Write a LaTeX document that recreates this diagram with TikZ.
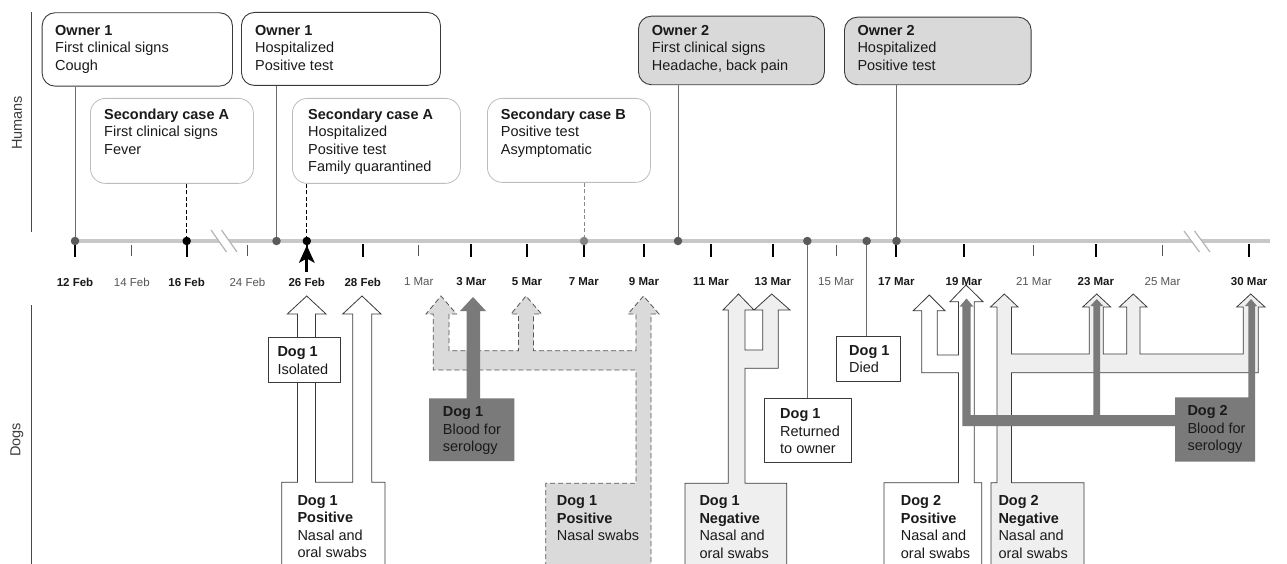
\documentclass[tikz,border=0pt]{standalone}
\usepackage{fontspec}
\setmainfont{Liberation Sans}
\usetikzlibrary{arrows.meta}
\definecolor{ink}{HTML}{1A1A1A}
\definecolor{tlgray}{HTML}{C8C8C8}
\definecolor{dotgray}{HTML}{5A5A5A}
\definecolor{conngray}{HTML}{6B6B6B}
\definecolor{boxline}{HTML}{3A3A3A}
\definecolor{secline}{HTML}{BDBDBD}
\definecolor{ownfill}{HTML}{D9D9D9}
\definecolor{negfill}{HTML}{EFEFEF}
\definecolor{dashfill}{HTML}{DADADA}
\definecolor{bloodfill}{HTML}{7A7A7A}
\definecolor{labgray}{HTML}{555555}
\definecolor{brkgray}{HTML}{B5B5B5}
\begin{document}
\begin{tikzpicture}[x=1pt,y=-1pt,
  txt/.style={anchor=north west,inner sep=0pt,align=left,font=\fontsize{14.5}{17.5}\selectfont,text=ink},
  obox/.style={draw=boxline,line width=0.9pt,rounded corners=13pt,fill=white,anchor=north west,inner sep=0pt},
  otwobox/.style={obox,fill=ownfill},
  sbox/.style={draw=secline,line width=0.8pt,rounded corners=15pt,fill=white,anchor=north west,inner sep=0pt},
  dbox/.style={draw=boxline,line width=0.8pt,fill=white,anchor=north west,inner sep=0pt},
  conn/.style={draw=conngray,line width=0.9pt},
  dconn/.style={draw=black,line width=0.9pt,dash pattern=on 4pt off 2.5pt},
  gconn/.style={draw=conngray!80,line width=0.9pt,dash pattern=on 4pt off 2.5pt},
  gdot/.style={circle,fill=dotgray,inner sep=0pt,minimum size=8.5pt},
  bdot/.style={circle,fill=black,inner sep=0pt,minimum size=8.5pt},
  btick/.style={line width=2pt,draw=black},
  gtick/.style={line width=0.9pt,draw=labgray},
  dlab/.style={font=\fontsize{11.5}{13}\selectfont\bfseries,text=ink,inner sep=0pt},
  glab/.style={font=\fontsize{11.5}{13}\selectfont,text=labgray,inner sep=0pt},
  wshape/.style={draw=boxline,line width=0.8pt,fill=white},
  nshape/.style={draw=boxline,line width=0.8pt,fill=negfill},
  dshape/.style={draw=labgray,line width=0.8pt,fill=dashfill,dash pattern=on 5pt off 3pt},
  bshape/.style={fill=bloodfill},
  side/.style={font=\fontsize{14.5}{17.5}\selectfont,text=ink!85,rotate=90,inner sep=0pt},
  sepline/.style={draw=ink!80,line width=0.9pt}
]
\useasboundingbox (0,0) rectangle (1287,564);
\fill[white] (0,0) rectangle (1287,564);

% side labels
\node[side] (hum) at (17,123) {Humans};
\node[side] (dogs) at (17,440) {Dogs};
\coordinate (sh1) at (31,12); \coordinate (sh2) at (31,232);
\coordinate (sd1) at (31,305); \coordinate (sd2) at (31,566);
\draw[sepline] (sh1) -- (sh2);
\draw[sepline] (sd1) -- (sd2);

% timeline
\coordinate (tl0) at (75,241); \coordinate (tl1) at (1270,241);
\draw[tlgray,line width=4.5pt] (tl0) -- (tl1);
\fill[white] (211,230) -- (221.5,230) -- (237,252) -- (226.5,252) -- cycle;
\draw[brkgray,line width=1.2pt] (211,230) -- (226.5,252) (221.5,230) -- (237,252);
\fill[white] (1184,231) -- (1194.5,231) -- (1210,252) -- (1199.5,252) -- cycle;
\draw[brkgray,line width=1.2pt] (1184,231) -- (1199.5,252) (1194.5,231) -- (1210,252);

\foreach \x in {75,186.7,306.8,362.8,471.4,527,583.8,644,710.9,772.9,896.4,963.9,1095.9,1249.2}
  \draw[btick] (\x,244) -- (\x,257);
\foreach \x in {131.8,247.5,418.7,836.1,1033.9,1162.5}
  \draw[gtick] (\x,245) -- (\x,256);

% dots
\node[gdot] (d12f) at (75,241) {};
\node[bdot] (d16f) at (186.7,241) {};
\node[gdot] (do1h) at (276.5,241) {};
\node[bdot] (d26f) at (306.8,241) {};
\node[gdot,fill=dotgray!75] (dsb) at (584,241) {};
\node[gdot] (do2s) at (678,241) {};
\node[gdot] (dret) at (807.3,241) {};
\node[gdot] (ddied) at (866.7,241) {};
\node[gdot] (do2h) at (896.5,241) {};

% black arrow at 26 Feb
\coordinate (ar0) at (306.8,272);
\coordinate (arb) at (306.8,258);
\draw[line width=3pt] (ar0) -- (arb);
\fill[black] (d26f.south) -- (314.8,263) -- (306.8,258.5) -- (298.8,263) -- cycle;

% top boxes
\node[obox,minimum width=190.3pt,minimum height=73.4pt] (o1a) at (41.7,12.3) {};
\node[obox,minimum width=199pt,minimum height=73pt] (o1b) at (241,12) {};
\node[sbox,minimum width=163pt,minimum height=85pt] (sa1) at (90,98) {};
\node[sbox,minimum width=168pt,minimum height=85pt] (sa2) at (292,98) {};
\node[sbox,minimum width=163pt,minimum height=84pt] (sb) at (487,98) {};
\node[otwobox,minimum width=186pt,minimum height=68.6pt] (o2a) at (638,15.7) {};
\node[otwobox,minimum width=186.7pt,minimum height=67.6pt] (o2b) at (844,16.7) {};

\node[txt] (to1a) at (55,22.75) {\strut\textbf{Owner 1}\\First clinical signs\\Cough};
\node[txt] (to1b) at (255,22.75) {\strut\textbf{Owner 1}\\Hospitalized\\Positive test};
\node[txt] (tsa1) at (104,106.75) {\strut\textbf{Secondary case A}\\First clinical signs\\Fever};
\node[txt] (tsa2) at (308,106.75) {\strut\textbf{Secondary case A}\\Hospitalized\\Positive test\\Family quarantined};
\node[txt] (tsb) at (500.7,106.75) {\strut\textbf{Secondary case B}\\Positive test\\Asymptomatic};
\node[txt] (to2a) at (651.7,22.75) {\strut\textbf{Owner 2}\\First clinical signs\\Headache, back pain};
\node[txt] (to2b) at (857.3,22.75) {\strut\textbf{Owner 2}\\Hospitalized\\Positive test};

\draw[conn] (o1a.south -| d12f) -- (d12f.north);
\draw[conn] (o1b.south -| do1h) -- (do1h.north);
\draw[dconn] (sa1.south -| d16f) -- (d16f.north);
\draw[dconn] (sa2.south -| d26f) -- (d26f.north);
\draw[gconn] (sb.south -| dsb) -- (dsb.north);
\draw[conn] (o2a.south -| do2s) -- (do2s.north);
\draw[conn] (o2b.south -| do2h) -- (do2h.north);

% Dog 1 positive (nasal and oral)
\draw[wshape] (281.7,575) -- (281.7,482.3) -- (297.5,482.3) -- (297.5,314) -- (287.3,314) -- (306.7,296) -- (326,314) -- (315.5,314) -- (315.5,482.3) -- (352.7,482.3) -- (352.7,314) -- (342.7,314) -- (362,296) -- (381,314) -- (371.7,314) -- (371.7,482.3) -- (385,482.3) -- (385,575);
\node[dbox,minimum width=71.7pt,minimum height=45pt] (biso) at (268.3,336.7) {};
\node[txt] (tiso) at (277.3,344.45) {\strut\textbf{Dog 1}\\Isolated};
\node[txt] (tdp) at (297.3,492.75) {\strut\textbf{Dog 1}\\\textbf{Positive}\\Nasal and\\oral swabs};

% Dog 1 positive nasal swabs (dashed)
\draw[dshape] (545.7,575) -- (545.7,483.3) -- (636,483.3) -- (636,370) -- (433.3,370) -- (433.3,314) -- (426,314) -- (441,296) -- (456.5,314) -- (449,314) -- (449,350.7) -- (518.5,350.7) -- (518.5,314) -- (511,314) -- (526,296) -- (541.5,314) -- (533.5,314) -- (533.5,350.7) -- (636,350.7) -- (636,314) -- (628,314) -- (643.5,296) -- (659,314) -- (651,314) -- (651,575);
\node[txt] (tdd) at (556.7,493.45) {\strut\textbf{Dog 1}\\\textbf{Positive}\\Nasal swabs};

% Dog 1 blood
\fill[bshape] (429,461) -- (429,398.3) -- (466.7,398.3) -- (466.7,311) -- (460,311) -- (473,297) -- (486,311) -- (480,311) -- (480,398.3) -- (514.3,398.3) -- (514.3,461) -- cycle;
\node[txt] (tb1) at (442.7,404.45) {\strut\textbf{Dog 1}\\Blood for\\serology};

% Dog 1 negative
\draw[nshape] (685,575) -- (685,483.3) -- (728.3,483.3) -- (728.3,310) -- (723,310) -- (738.5,294) -- (754,310) -- (745,310) -- (745,350) -- (762.7,350) -- (762.7,310) -- (754,310) -- (771.7,294) -- (790,310) -- (778.3,310) -- (778.3,368.3) -- (745,368.3) -- (745,483.3) -- (786.7,483.3) -- (786.7,575);
\node[txt] (tdn) at (699.3,493.45) {\strut\textbf{Dog 1}\\\textbf{Negative}\\Nasal and\\oral swabs};

% Dog 1 returned, died
\node[dbox,minimum width=86.7pt,minimum height=63.4pt] (bret) at (764.3,398.3) {};
\node[txt] (tret) at (780,406.05) {\strut\textbf{Dog 1}\\Returned\\to owner};
\node[dbox,minimum width=64pt,minimum height=45.3pt] (bdied) at (836,335.7) {};
\node[txt] (tdied) at (849,342.75) {\strut\textbf{Dog 1}\\Died};
\draw[conn] (dret.south) -- (dret |- bret.north);
\draw[conn] (ddied.south) -- (ddied |- bdied.north);

% Dog 2 positive
\draw[wshape] (884,575) -- (884,482.7) -- (958.5,482.7) -- (958.5,372.7) -- (921.7,372.7) -- (921.7,310.7) -- (913.3,310.7) -- (929.3,295) -- (945,310.7) -- (937.3,310.7) -- (937.3,355) -- (958.5,355) -- (958.5,301.7) -- (950,301.7) -- (966,285) -- (983,301.7) -- (974.3,301.7) -- (974.3,482.7) -- (981.7,482.7) -- (981.7,575);
\node[txt] (t2p) at (900.7,493.45) {\strut\textbf{Dog 2}\\\textbf{Positive}\\Nasal and\\oral swabs};

% Dog 2 negative
\draw[nshape] (991,575) -- (991,482.7) -- (997,482.7) -- (997,307) -- (990.5,307) -- (1004.3,294) -- (1018,307) -- (1011.5,307) -- (1011.5,354) -- (1089.3,354) -- (1089.3,307) -- (1082.7,307) -- (1096.7,294) -- (1110.7,307) -- (1103.3,307) -- (1103.3,354) -- (1126.7,354) -- (1126.7,307) -- (1119.3,307) -- (1133.3,294) -- (1147,307) -- (1140,307) -- (1140,354) -- (1243.3,354) -- (1243.3,307) -- (1236.7,307) -- (1250.7,294) -- (1265,307) -- (1258.3,307) -- (1258.3,372.7) -- (1011.5,372.7) -- (1011.5,482.7) -- (1084,482.7) -- (1084,575);
\node[txt] (t2n) at (998.3,493.45) {\strut\textbf{Dog 2}\\\textbf{Negative}\\Nasal and\\oral swabs};

% Dog 2 blood
\fill[bshape] (962.3,426) -- (962.3,306.7) -- (959.5,306.7) -- (966.5,298.5) -- (973.5,306.7) -- (970.7,306.7) -- (970.7,415) -- (1093.3,415) -- (1093.3,306) -- (1090.3,306) -- (1096.7,299) -- (1103.3,306) -- (1100,306) -- (1100,415) -- (1175,415) -- (1175,397.3) -- (1248.3,397.3) -- (1248.3,306) -- (1245,306) -- (1251,299) -- (1257,306) -- (1255,306) -- (1255,461.7) -- (1175,461.7) -- (1175,426) -- cycle;
\node[txt] (tb2) at (1187.3,403.45) {\strut\textbf{Dog 2}\\Blood for\\serology};

% date labels
\foreach \x/\t [count=\i] in {75/12 Feb,186.7/16 Feb,306.8/26 Feb,362.8/28 Feb,471.4/3 Mar,527/5 Mar,583.8/7 Mar,644/9 Mar,710.9/11 Mar,772.9/13 Mar,896.4/17 Mar,963.9/19 Mar,1095.9/23 Mar,1249.2/30 Mar}
  \node[dlab] (lb\i) at (\x,282) {\t};
\foreach \x/\t [count=\i] in {131.8/14 Feb,247.5/24 Feb,418.7/1 Mar,836.1/15 Mar,1033.9/21 Mar,1162.5/25 Mar}
  \node[glab] (lg\i) at (\x,282) {\t};
\end{tikzpicture}
\end{document}
